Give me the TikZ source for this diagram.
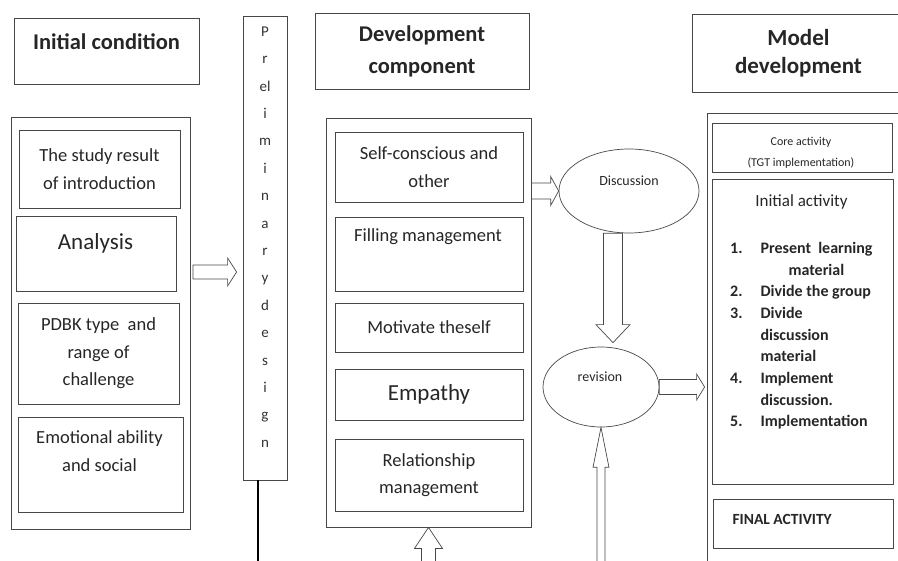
\documentclass[tikz,border=0pt]{standalone}
\usepackage{fontspec}
\setmainfont{Carlito}
\usetikzlibrary{shapes.geometric,positioning,calc}

% block arrow: from, to, half shaft, half head, head length
\newcommand{\blockarrow}[5]{%
  \coordinate (ba-a) at #1;
  \coordinate (ba-b) at #2;
  \coordinate (ba-h) at ($(ba-b)!#5!(ba-a)$);
  \draw[barrow] ($(ba-a)!#3!90:(ba-b)$) -- ($(ba-h)!#3!-90:(ba-a)$) -- ($(ba-h)!#4!-90:(ba-a)$)
    -- (ba-b) -- ($(ba-h)!#4!90:(ba-a)$) -- ($(ba-h)!#3!90:(ba-a)$) -- ($(ba-a)!#3!-90:(ba-b)$) -- cycle;
}

\tikzset{
  box/.style={draw=black!72, line width=0.8pt, inner sep=0pt, text=black!85},
  oval/.style={ellipse, draw=black!72, line width=0.7pt, inner sep=0pt},
  head/.style={font=\fontsize{22.5}{32}\selectfont\bfseries, align=center, text=black!85},
  body/.style={font=\fontsize{18.5}{27.5}\selectfont, align=center, text=black!85},
  big/.style={font=\fontsize{23}{28}\selectfont, text=black!85},
  small/.style={font=\fontsize{14}{17}\selectfont, text=black!85},
  barrow/.style={draw=black!72, line width=0.7pt, fill=white, line join=miter},
}

\begin{document}
\begin{tikzpicture}[x=1pt,y=-1pt]
  \useasboundingbox (0,0) rectangle (898,561);
  \clip (0,0) rectangle (898,561);

  % initial condition
  \node[box, minimum width=185pt, minimum height=66pt] (ic) at (106.5,51) {};
  \node[head] (icT) at (106.5,42) {Initial condition};
  \node[box, minimum width=179pt, minimum height=412pt] (lo) at (100.5,323) {};
  \node[box, body, minimum width=161pt, minimum height=78pt] (sr) at (99.5,169) {The study result\\of introduction};
  \node[box, minimum width=160pt, minimum height=75pt] (an) at (96,253.5) {};
  \node[big] (anT) at (95.5,243) {Analysis};
  \node[box, body, minimum width=161pt, minimum height=101pt] (pd) at (98.5,353.5) {PDBK type~ and\\range of\\challenge};
  \node[box, minimum width=165pt, minimum height=95pt] (ea) at (100.5,464.5) {};
  \node[body] (eaT) at (99.5,451) {Emotional ability\\and social};

  % preliminary design
  \node[box, minimum width=44pt, minimum height=464pt] (pre) at (265,248) {};
  \node[font=\fontsize{15}{27.4}\selectfont, align=center, text=black!80] (preT) at (265,237)
    {P\\r\\el\\i\\m\\i\\n\\a\\r\\y\\d\\e\\s\\i\\g\\n};
  \draw[line width=2.2pt] ($(pre.south)+(-7,0)$) -- ++(0,85);

  % development component
  \node[box, head, minimum width=214pt, minimum height=76pt] (dc) at (422,51) {Development\\component};
  \node[box, minimum width=205pt, minimum height=409pt] (mo) at (428.5,322.5) {};
  \node[box, body, minimum width=188pt, minimum height=70pt] (sc) at (429,167) {Self-conscious and\\other};
  \node[box, minimum width=188pt, minimum height=74pt] (fm) at (429,254) {};
  \node[body] (fmT) at (428,237) {Filling management};
  \node[box, body, minimum width=188pt, minimum height=49pt] (mt) at (429,327.5) {Motivate theself};
  \node[box, big, minimum width=188pt, minimum height=51pt] (em) at (429,394.5) {Empathy};
  \node[box, body, minimum width=188pt, minimum height=72pt] (rm) at (429,475) {Relationship\\management};

  % discussion and revision
  \node[oval, minimum width=140pt, minimum height=84pt] (dis) at (629,191) {};
  \node[small] (disT) at (629,181) {Discussion};
  \node[oval, minimum width=116pt, minimum height=80pt] (rev) at (601,387) {};
  \node[small] (revT) at (600,377) {revision};

  % model development
  \node[box, font=\fontsize{23}{28}\selectfont\bfseries, align=center, minimum width=213pt, minimum height=78pt] (md) at (798.5,53) {Model\\development};
  \node[box, minimum width=203pt, minimum height=467pt] (mb) at (808.5,346.5) {};
  \node[box, minimum width=180pt, minimum height=49pt] (ca) at (802,147.5) {};
  \node[font=\fontsize{12}{21}\selectfont, align=center, text=black!85] (caT) at (801,153) {Core activity\\(TGT implementation)};
  \node[box, minimum width=181pt, minimum height=305pt] (ia) at (802.5,331.5) {};
  \node[font=\fontsize{17}{20}\selectfont, text=black!85] (iaT) at (801.5,202) {Initial activity};
  \node[anchor=north west, inner sep=0pt, font=\fontsize{16}{21.7}\selectfont\bfseries, text=black!85] (iaL) at (730,238) {%
    \begin{tabular}{@{}r@{\hspace{18pt}}l@{}}
      1. & Present~ learning\\
         & \hspace{28pt}material\\
      2. & Divide the group\\
      3. & Divide\\
         & discussion\\
         & material\\
      4. & Implement\\
         & discussion.\\
      5. & Implementation
    \end{tabular}};
  \node[box, minimum width=180pt, minimum height=49pt] (fa) at (803,523.5) {};
  \node[anchor=west, font=\fontsize{15.5}{18}\selectfont\bfseries, text=black!85] (faT) at (729,519) {FINAL ACTIVITY};

  % arrows
  \blockarrow{(193,272)}{($(pre.west|-0,272)+(-6,0)$)}{7pt}{14pt}{9pt}
  \blockarrow{(mo.east|-dis.west)}{(dis.west)}{8pt}{14.5pt}{8pt}
  \blockarrow{(dis.south-|613,0)}{($(rev.north-|613,0)+(0,-4)$)}{9.5pt}{17pt}{18pt}
  \blockarrow{(rev.east)}{($(mb.west|-rev.east)+(-2,0)$)}{7.5pt}{13pt}{8pt}
  \blockarrow{(rev.south|-0,566)}{(rev.south)}{4pt}{8pt}{40pt}
  \blockarrow{(mo.south|-0,566)}{(mo.south)}{7pt}{14pt}{21pt}
\end{tikzpicture}
\end{document}
